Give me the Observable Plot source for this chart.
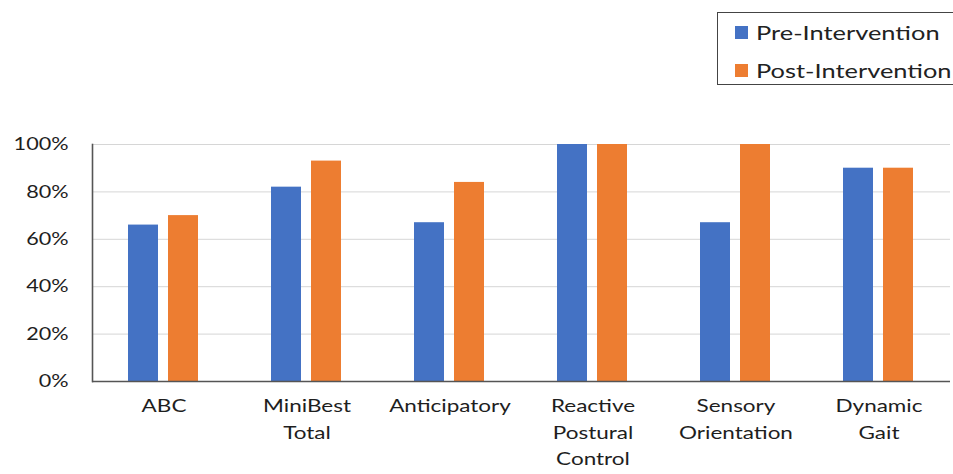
<!DOCTYPE html>
<html>
<head>
<meta charset="utf-8">
<script src="https://cdn.jsdelivr.net/npm/d3@7"></script>
<script src="https://cdn.jsdelivr.net/npm/@observablehq/plot@0.6"></script>
<style>
  html, body { margin: 0; padding: 0; background: #fff; overflow: hidden; }
  #wrap { position: relative; width: 953px; height: 474px; font-family: Lato, "Open Sans", sans-serif; color: #222; }
  #legend { position: relative; height: 100px; }
  #legend .box { position: absolute; left: 717px; top: 12px; width: 250px; height: 73px; border: 1.5px solid #444; box-sizing: border-box; }
  #legend .item { position: absolute; left: 17px; font-size: 20px; line-height: 24px; display: flex; align-items: center; white-space: nowrap; }
  #legend .sw { width: 13px; height: 13px; margin-right: 8px; display: inline-block; }
  #legend .lt { display: inline-block; transform: scaleX(1.27); transform-origin: left center; }
</style>
</head>
<body>
<div id="wrap">
  <div id="legend"><div class="box" id="lbox"></div></div>
  <div id="chart"></div>
</div>
<script>
const categories = ["ABC", "MiniBest\nTotal", "Anticipatory", "Reactive\nPostural\nControl", "Sensory\nOrientation", "Dynamic\nGait"];
const series = ["Pre-Intervention", "Post-Intervention"];
const preValues = [66, 82, 67, 100, 67, 90];
const postValues = [70, 93, 84, 100, 100, 90];
const yTicks = [0, 20, 40, 60, 80, 100];
const colors = ["#4472C4", "#ED7D31"];

const data = [];
categories.forEach((c, i) => {
  data.push({category: c, series: series[0], value: preValues[i]});
  data.push({category: c, series: series[1], value: postValues[i]});
});

// legend
const lbox = document.getElementById("lbox");
series.forEach((s, i) => {
  const it = document.createElement("div");
  it.className = "item";
  it.style.top = (i === 0 ? 7 : 45) + "px";
  it.innerHTML = `<span class="sw" style="background:${colors[i]}"></span><span class="lt">${s}</span>`;
  lbox.appendChild(it);
});

const chart = Plot.plot({
  width: 953,
  height: 374,
  marginTop: 44,
  marginLeft: 92,
  marginRight: 3,
  marginBottom: 93,
  style: {fontFamily: "Lato, 'Open Sans', sans-serif", color: "#1e1e1e", background: "#fff"},
  fx: {domain: categories, padding: 0, label: null},
  x: {domain: series, paddingInner: 0.244, paddingOuter: 0.866, axis: null},
  y: {domain: [0, 100], axis: null},
  color: {domain: series, range: colors},
  marks: [
    Plot.ruleY(yTicks.slice(1), {stroke: "#d6d6d6", strokeWidth: 1}),
    Plot.barY(data, {fx: "category", x: "series", y: "value", fill: "series"}),
    Plot.ruleY([0], {stroke: "#555", strokeWidth: 1.6}),
    Plot.frame({anchor: "left", facetAnchor: "left", stroke: "#555", strokeWidth: 1.6}),
    Plot.axisY({ticks: yTicks, tickFormat: d => d + "%", tickSize: 0, tickPadding: 24, fontSize: 18, label: null}),
    Plot.axisFx({anchor: "bottom", tickSize: 0, tickPadding: 12, fontSize: 18, lineHeight: 1.47, label: null})
  ]
});

// horizontal stretch of tick labels to match the reference's wide lettering
function stretch(selector, s) {
  chart.querySelectorAll(selector).forEach(t => {
    const x = +(t.getAttribute("x") || 0);
    const tr = t.getAttribute("transform") || "";
    t.setAttribute("transform", `${tr} translate(${x},0) scale(${s},1) translate(${-x},0)`);
  });
}
stretch("g[aria-label='y-axis tick label'] text", 1.2);
stretch("g[aria-label='fx-axis tick label'] text", 1.25);

document.getElementById("chart").appendChild(chart);
</script>
</body>
</html>
